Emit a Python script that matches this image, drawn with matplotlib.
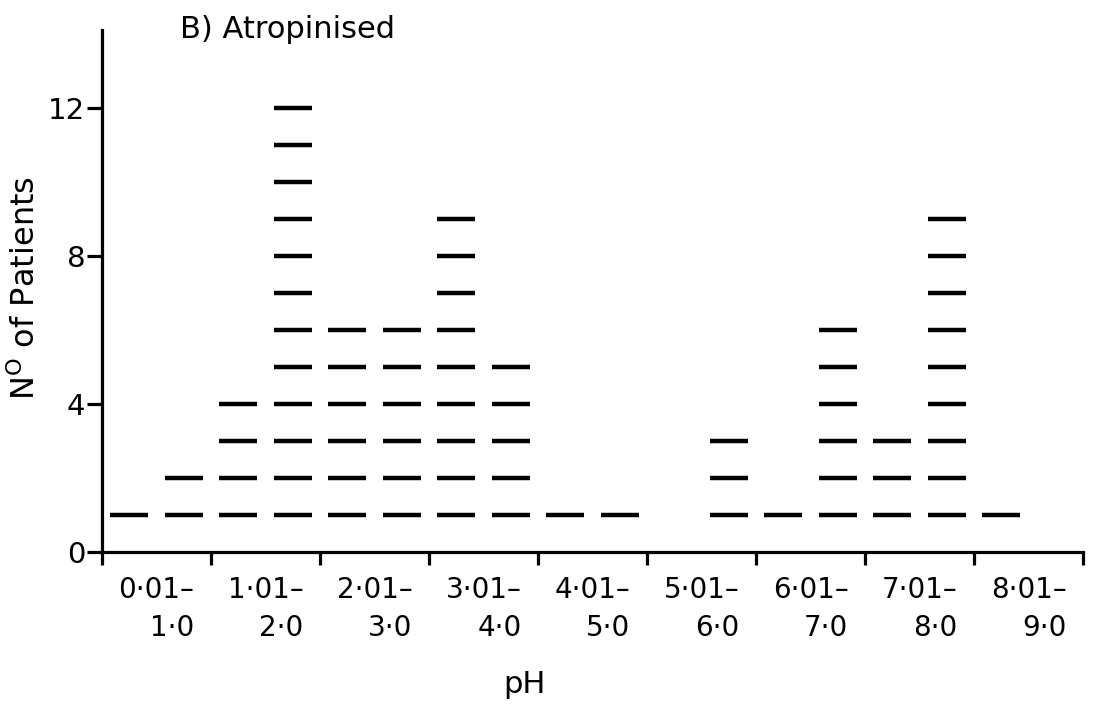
import matplotlib
matplotlib.use('Agg')
from matplotlib import pyplot as plt

# half-unit pH bins, number of patients in each (one dash per patient)
bin_starts = [0.0, 0.5, 1.0, 1.5, 2.0, 2.5, 3.0, 3.5, 4.0,
              4.5, 5.0, 5.5, 6.0, 6.5, 7.0, 7.5, 8.0, 8.5]
counts = [1, 2, 4, 12, 6, 6, 9, 5, 1,
          1, 0, 3, 1, 6, 3, 9, 1, 0]

cat_labels = ['0\u00b701\u2013\n1\u00b70', '1\u00b701\u2013\n2\u00b70',
              '2\u00b701\u2013\n3\u00b70', '3\u00b701\u2013\n4\u00b70',
              '4\u00b701\u2013\n5\u00b70', '5\u00b701\u2013\n6\u00b70',
              '6\u00b701\u2013\n7\u00b70', '7\u00b701\u2013\n8\u00b70',
              '8\u00b701\u2013\n9\u00b70']
y_ticks = [0, 4, 8, 12]

fig = plt.figure(figsize=(10.93, 7.08), dpi=100)
ax = fig.add_axes([0.0933, 0.2203, 0.8977, 0.7373])

# dashes
xs = []
ys = []
for start, n in zip(bin_starts, counts):
    for k in range(1, n + 1):
        xs.append(start + 0.25)
        ys.append(k)
half = 0.175
ax.hlines(ys, [x - half for x in xs], [x + half for x in xs],
          colors='black', linewidth=3.2)

ax.set_xlim(0, 9)
ax.set_ylim(0, 14.1)

for s in ['top', 'right']:
    ax.spines[s].set_visible(False)
for s in ['left', 'bottom']:
    ax.spines[s].set_linewidth(2.3)

ax.set_xticks(range(0, 10))
ax.set_xticklabels([])
ax.set_xticks([i + 0.5 for i in range(9)], minor=True)
ax.set_xticklabels(cat_labels, minor=True, fontsize=20,
                   multialignment='right', linespacing=1.45)
ax.tick_params(axis='x', which='major', direction='out', length=9, width=2.3)
ax.tick_params(axis='x', which='minor', length=0, pad=17)

ax.set_yticks(y_ticks)
ax.set_yticklabels([str(v) for v in y_ticks], fontsize=21)
ax.tick_params(axis='y', direction='out', length=11, width=2.3, pad=1)

ax.set_xlabel('pH', fontsize=22)
ax.xaxis.set_label_coords(0.431, -0.226)
ax.set_ylabel('N$^{\\mathrm{O}}$ of Patients', fontsize=23)
ax.yaxis.set_label_coords(-0.061, 0.506)

fig.text(0.165, 0.979, 'B) Atropinised', fontsize=22, ha='left', va='top')

plt.savefig('out.png', dpi=100)
